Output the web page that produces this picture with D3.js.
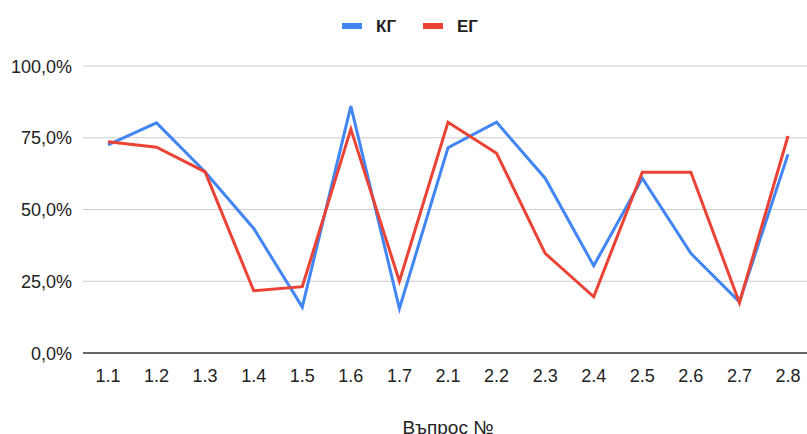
<!DOCTYPE html>
<html>
<head>
<meta charset="utf-8">
<script src="https://cdn.jsdelivr.net/npm/d3@7"></script>
<style>
  body { margin: 0; background: #fff; }
  text { font-family: "Liberation Sans", Arial, sans-serif; }
</style>
</head>
<body>
<script>
// Data
var questions = ["1.1", "1.2", "1.3", "1.4", "1.5", "1.6", "1.7", "2.1", "2.2", "2.3", "2.4", "2.5", "2.6", "2.7", "2.8"];
var kgValues = [0.725, 0.802, 0.631, 0.434, 0.16, 0.86, 0.155, 0.715, 0.804, 0.609, 0.304, 0.609, 0.347, 0.178, 0.692];
var egValues = [0.736, 0.717, 0.631, 0.217, 0.231, 0.78, 0.25, 0.804, 0.696, 0.347, 0.196, 0.63, 0.63, 0.175, 0.756];
var yTicks = [0, 0.25, 0.5, 0.75, 1];
var seriesNames = ["КГ", "ЕГ"];
var colors = ["#4285f4", "#ea4335"];

var width = 807, height = 434;

var svg = d3.select("body").append("svg")
    .attr("width", width)
    .attr("height", height);

var x = d3.scalePoint().domain(questions).range([83.7, 812.3]).padding(0.5);
var y = d3.scaleLinear().domain([0, 1]).range([353, 66]);

var fmt = function(d) { return d3.format(".1f")(d * 100).replace(".", ",") + "%"; };

// Grid lines
svg.selectAll(".grid")
    .data(yTicks.filter(function(d) { return d > 0; }))
    .enter().append("line")
    .attr("class", "grid")
    .attr("x1", 83).attr("x2", width)
    .attr("y1", function(d) { return y(d); })
    .attr("y2", function(d) { return y(d); })
    .attr("stroke", "#cccccc")
    .attr("stroke-width", 1);

// Y labels
svg.selectAll(".ylab")
    .data(yTicks)
    .enter().append("text")
    .attr("class", "ylab")
    .attr("x", 72)
    .attr("y", function(d) { return y(d) + 6.5; })
    .attr("text-anchor", "end")
    .style("font-size", "18px")
    .attr("fill", "#222")
    .text(fmt);

// X labels
svg.selectAll(".xlab")
    .data(questions)
    .enter().append("text")
    .attr("class", "xlab")
    .attr("x", function(d) { return x(d); })
    .attr("y", 381.5)
    .attr("text-anchor", "middle")
    .style("font-size", "18px")
    .attr("fill", "#222")
    .text(function(d) { return d; });

// Lines
var series = [kgValues, egValues];
var line = d3.line()
    .x(function(d, i) { return x(questions[i]); })
    .y(function(d) { return y(d); });

series.forEach(function(vals, k) {
    svg.append("path")
        .datum(vals)
        .attr("fill", "none")
        .attr("stroke", colors[k])
        .attr("stroke-width", 3)
        .attr("stroke-linejoin", "miter")
        .attr("d", line);
});

// Zero axis
svg.append("line")
    .attr("x1", 83).attr("x2", width)
    .attr("y1", y(0)).attr("y2", y(0))
    .attr("stroke", "#333")
    .attr("stroke-width", 1.5);

// Legend
var legendX = [342, 423];
seriesNames.forEach(function(name, k) {
    svg.append("rect")
        .attr("x", legendX[k]).attr("y", 23)
        .attr("width", 20).attr("height", 6)
        .attr("fill", colors[k]);
    svg.append("text")
        .attr("x", legendX[k] + 34)
        .attr("y", 32)
        .style("font-size", "17px")
        .style("font-weight", "bold")
        .attr("fill", "#222")
        .text(name);
});

// Axis title (cut at the bottom edge, as in the original)
svg.append("text")
    .attr("x", 448)
    .attr("y", 434)
    .attr("text-anchor", "middle")
    .style("font-size", "19px")
    .attr("fill", "#222")
    .text("Въпрос №");
</script>
</body>
</html>
